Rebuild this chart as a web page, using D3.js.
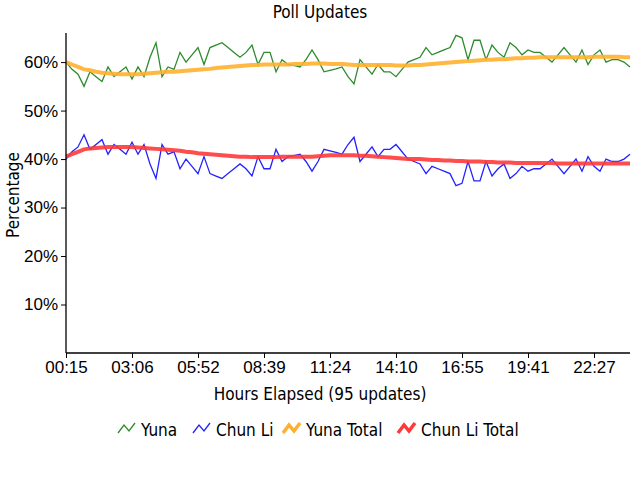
<!DOCTYPE html><html><head><meta charset="utf-8"><script src="https://cdn.jsdelivr.net/npm/d3@7"></script>
<style>body{margin:0;background:#fff}text{font-family:"Liberation Sans Narrow","Arial Narrow","DejaVu Sans Condensed",sans-serif;fill:#000}</style></head><body><svg id="c" width="640" height="480"></svg><script>
const yuna=[60,58.5,57.5,55,58,57,56,59,57,58,59,56.5,59,57,61,64,57,59,58.5,62,60,61.5,63,59.5,63,63.5,64,63,62,61,62,63.5,59.5,62,62,58,60.5,59.5,59.3,59,60.5,62.5,60.5,58,58.3,58.6,59,57,55.5,60.5,59,57.5,59.5,58,58,57,58.5,60,60.5,61,63,61.5,62,62.5,63,65.5,65,60.5,64.5,64.5,60.5,63.5,62,61,64,63,61.5,62.5,62,62,61,60,61.5,63,61.5,60,62.5,59.5,61.5,62.5,60,60.5,60.5,60,59];
const chunLi=[40,41.5,42.5,45,42,43,44,41,43,42,41,43.5,41,43,39,36,43,41,41.5,38,40,38.5,37,40.5,37,36.5,36,37,38,39,38,36.5,40.5,38,38,42,39.5,40.5,40.7,41,39.5,37.5,39.5,42,41.7,41.4,41,43,44.5,39.5,41,42.5,40.5,42,42,43,41.5,40,39.5,39,37,38.5,38,37.5,37,34.5,35,39.5,35.5,35.5,39.5,36.5,38,39,36,37,38.5,37.5,38,38,39,40,38.5,37,38.5,40,37.5,40.5,38.5,37.5,40,39.5,39.5,40,41];
const yunaTotal=[60,59.5,59,58.5,58.3,58,57.8,57.7,57.6,57.5,57.5,57.5,57.5,57.6,57.7,57.8,57.9,58,58,58.1,58.2,58.3,58.4,58.5,58.6,58.8,58.9,59,59.1,59.2,59.3,59.4,59.4,59.5,59.5,59.5,59.5,59.5,59.6,59.6,59.6,59.7,59.7,59.7,59.6,59.6,59.6,59.5,59.4,59.4,59.4,59.4,59.4,59.4,59.4,59.3,59.3,59.3,59.4,59.4,59.5,59.6,59.7,59.8,59.9,60,60.1,60.2,60.3,60.4,60.5,60.5,60.6,60.6,60.7,60.8,60.8,60.9,60.9,61,61,61,61,61,61,61,61,61,61.1,61.1,61.1,61.1,61.1,61,61];
const chunLiTotal=[40.5,41,41.5,42,42.2,42.3,42.4,42.5,42.5,42.5,42.5,42.5,42.4,42.3,42.2,42.1,42,41.9,41.8,41.7,41.5,41.4,41.2,41.1,41,40.9,40.8,40.7,40.6,40.5,40.5,40.4,40.4,40.4,40.4,40.4,40.5,40.5,40.5,40.5,40.5,40.5,40.6,40.7,40.8,40.8,40.8,40.8,40.8,40.7,40.7,40.6,40.5,40.4,40.3,40.2,40.1,40,40,40,39.9,39.8,39.8,39.7,39.7,39.6,39.6,39.5,39.5,39.5,39.4,39.4,39.3,39.3,39.3,39.2,39.2,39.2,39.2,39.2,39.2,39.2,39.1,39.1,39.1,39.1,39.1,39.1,39.1,39.1,39.1,39.1,39.1,39.1,39.1];
const xTickLabels=["00:15","03:06","05:52","08:39","11:24","14:10","16:55","19:41","22:27"];
const yTicks=[10,20,30,40,50,60];
const series=[{name:"Yuna",data:yuna,color:"#2e8b2e",w:1.3},{name:"Chun Li",data:chunLi,color:"#2323ff",w:1.3},{name:"Yuna Total",data:yunaTotal,color:"#ffb02e",w:4},{name:"Chun Li Total",data:chunLiTotal,color:"#ff3838",w:4}];
const svg=d3.select("#c");
const x=d3.scaleLinear().domain([0,94]).range([66,630]);
const y=d3.scaleLinear().domain([0,66]).range([353,33]);
const line=d3.line().x((d,i)=>x(i)).y(d=>y(d));
series.forEach(s=>svg.append("path").attr("d",line(s.data)).attr("fill","none").attr("stroke",s.color).attr("stroke-width",s.w).attr("stroke-opacity",s.w>2?0.9:1));
const ya=svg.append("g").attr("transform","translate(66,0)").call(d3.axisLeft(y).tickValues(yTicks).tickFormat(d=>d+"%").tickSize(5).tickSizeOuter(0));
const xa=svg.append("g").attr("transform","translate(0,353)").call(d3.axisBottom(x).tickValues(xTickLabels.map((d,i)=>i*11)).tickFormat((d,i)=>xTickLabels[i]).tickSize(5).tickSizeOuter(0));
[ya,xa].forEach(a=>{a.select(".domain").attr("stroke","#000").attr("stroke-width",1.3);a.selectAll("text").style("font-size","17px").style("font-family","'Liberation Sans Narrow','Arial Narrow',sans-serif");});
ya.select(".domain").attr("d","M0,33V353");
xa.select(".domain").attr("d","M66,0H630");
svg.append("text").attr("x",320).attr("y",18).attr("text-anchor","middle").style("font-size","17px").text("Poll Updates");
svg.append("text").attr("x",320).attr("y",400).attr("text-anchor","middle").style("font-size","17px").text("Hours Elapsed (95 updates)");
svg.append("text").attr("transform","translate(19,195) rotate(-90)").attr("text-anchor","middle").style("font-size","17px").text("Percentage");
const lx=[118,193,283,398];
series.forEach((s,i)=>{const g=svg.append("g").attr("transform",`translate(${lx[i]},429)`);
g.append("path").attr("d","M0,4L6,-4L11,2L17,-6").attr("fill","none").attr("stroke",s.color).attr("stroke-width",s.w>2?3.5:1.3);
g.append("text").attr("x",23).attr("y",7).style("font-size","17px").text(s.name);});
</script></body></html>
